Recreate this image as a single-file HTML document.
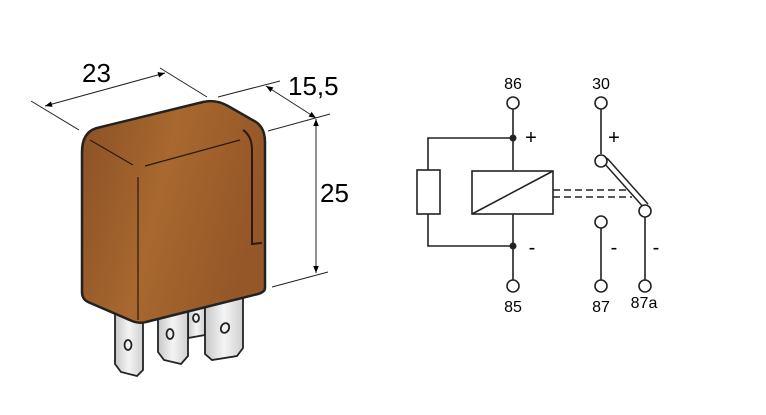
<!DOCTYPE html>
<html><head><meta charset="utf-8"><style>
html,body{margin:0;padding:0;background:#fff;}
svg{display:block;}
text{font-family:"Liberation Sans",Arial,sans-serif;fill:#000;}
</style></head><body>
<svg width="766" height="415" viewBox="0 0 766 415" xmlns="http://www.w3.org/2000/svg">
<defs>
<linearGradient id="g" x1="0" y1="0" x2="1" y2="0.3">
<stop offset="0" stop-color="#8a5026"/>
<stop offset="0.5" stop-color="#a8682f"/>
<stop offset="1" stop-color="#955728"/>
</linearGradient>
<linearGradient id="p" x1="0" y1="0" x2="1" y2="0">
<stop offset="0" stop-color="#c8c8c8"/>
<stop offset="0.5" stop-color="#f4f4f4"/>
<stop offset="1" stop-color="#d0d0d0"/>
</linearGradient>
<marker id="ar" viewBox="0 0 10 10" refX="10" refY="5" markerWidth="9" markerHeight="7" orient="auto-start-reverse">
<path d="M0,1 L10,5 L0,9 z" fill="#000"/>
</marker>
</defs>

<!-- pins -->
<g stroke="#222" stroke-width="1.8" fill="url(#p)">
<path d="M188,300 L205,298 L205,335 L188,338 z"/>
<path d="M115,308 L143,312 L143,370 L137,376 L121,372 L115,364 z"/>
<path d="M158,312 L188,308 L188,356 L181,364 L164,360 L158,352 z"/>
<path d="M205,300 L243,292 L243,348 L237,356 L212,360 L205,354 z"/>
</g>
<g fill="none" stroke="#222" stroke-width="1.8">
<ellipse cx="128" cy="345" rx="3.5" ry="5"/>
<ellipse cx="170" cy="334" rx="3.5" ry="5"/>
<ellipse cx="225" cy="328" rx="4" ry="5" transform="rotate(25 225 328)"/>
<ellipse cx="196" cy="318" rx="3" ry="4"/>
</g>

<!-- body -->
<path d="M82,152 Q82,132 97,128 L203,102 Q216,99 228,106 L256,122 Q265,128 265,142 L265,288 Q265,292 258,294 L146,322 Q140,324 132,321 L88,302 Q82,299 82,292 z" fill="url(#g)" stroke="#222" stroke-width="2.5"/>
<g stroke="#2a1a10" stroke-width="1.2" fill="none">
<path d="M90,140 L133,165"/>
<path d="M145,166 L240,140"/>
<path d="M138,177 L138,320"/>
</g>
<path d="M243,130 Q252,136 252,150 L252,244 L262,243" stroke="#2a1a10" stroke-width="2" fill="none"/>

<!-- dimensions -->
<g stroke="#222" stroke-width="1" fill="none">
<line x1="31" y1="101" x2="79" y2="130"/>
<line x1="160" y1="68" x2="207" y2="97"/>
<line x1="45" y1="106" x2="165" y2="73" marker-start="url(#ar)" marker-end="url(#ar)"/>
<line x1="218" y1="97" x2="280" y2="81"/>
<line x1="268" y1="131" x2="330" y2="114"/>
<line x1="266" y1="86" x2="316" y2="118" marker-start="url(#ar)" marker-end="url(#ar)"/>
<line x1="316" y1="119" x2="316" y2="273" marker-start="url(#ar)" marker-end="url(#ar)"/>
<line x1="272" y1="287" x2="328" y2="272"/>
</g>
<text x="82" y="82" font-size="26">23</text>
<text x="288" y="95" font-size="26">15,5</text>
<text x="320" y="202" font-size="26">25</text>

<!-- schematic -->
<g stroke="#222" stroke-width="1.6" fill="none">
<line x1="513" y1="109" x2="513" y2="170"/>
<line x1="513" y1="214" x2="513" y2="280"/>
<polyline points="513,138 428,138 428,170"/>
<polyline points="428,214 428,246 513,246"/>
<rect x="417" y="170" width="23" height="44" fill="#fff"/>
<rect x="472" y="171" width="81" height="43" fill="#fff"/>
<line x1="472" y1="214" x2="553" y2="171"/>
<line x1="601" y1="109" x2="601" y2="154"/>
<line x1="601" y1="228" x2="601" y2="280"/>
<line x1="645" y1="216" x2="645" y2="280"/>
<line x1="553" y1="190" x2="628" y2="190" stroke-dasharray="7,4"/>
<line x1="553" y1="197" x2="632" y2="197" stroke-dasharray="7,4"/>
<line x1="605" y1="160" x2="646" y2="206" stroke-width="7" stroke="#222"/>
<line x1="605" y1="160" x2="646" y2="206" stroke-width="4" stroke="#fff"/>
</g>
<g stroke="#222" stroke-width="1.6" fill="#fff">
<circle cx="513" cy="103" r="6"/>
<circle cx="513" cy="286" r="6"/>
<circle cx="601" cy="103" r="6"/>
<circle cx="601" cy="161" r="6"/>
<circle cx="645" cy="211" r="6"/>
<circle cx="601" cy="222" r="6"/>
<circle cx="601" cy="286" r="6"/>
<circle cx="645" cy="286" r="6"/>
</g>
<circle cx="513" cy="138" r="3.5" fill="#222"/>
<circle cx="513" cy="246" r="3.5" fill="#222"/>
<g font-size="16" text-anchor="middle">
<text x="513" y="89">86</text>
<text x="601" y="89">30</text>
<text x="513" y="312">85</text>
<text x="601" y="312">87</text>
<text x="644" y="308">87a</text>
<text x="531" y="144" font-size="20">+</text>
<text x="614" y="144" font-size="20">+</text>
<text x="532" y="254" font-size="20">-</text>
<text x="614" y="254" font-size="20">-</text>
<text x="656" y="254" font-size="20">-</text>
</g>
</svg>
</body></html>
